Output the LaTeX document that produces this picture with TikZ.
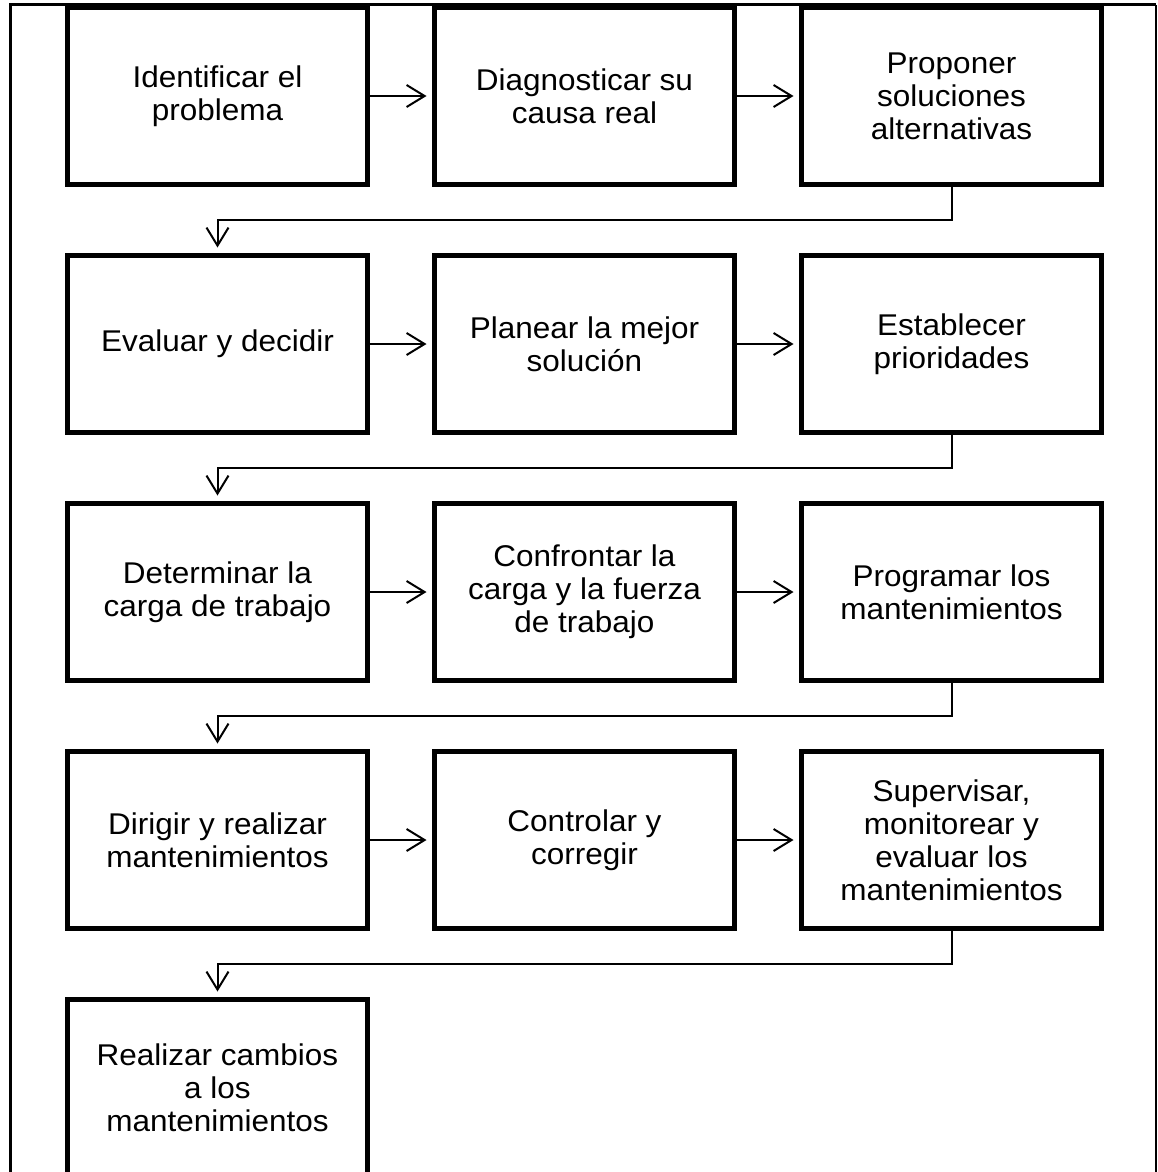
\documentclass[tikz,border=0pt]{standalone}
\usepackage{fontspec}
\setmainfont{Liberation Sans}[FakeStretch=1.05]
\usetikzlibrary{positioning,arrows.meta}

\begin{document}
\begin{tikzpicture}[line join=miter,
  box/.style={draw,line width=5pt,outer sep=0pt,minimum width=300pt,minimum height=177pt,
    align=center,font=\fontsize{30pt}{33pt}\selectfont},
  flow/.style={line width=2pt,-{Straight Barb[length=18pt,width=22pt]},shorten >=8pt}]
\path[use as bounding box,clip](0pt,0pt) rectangle (1158pt,-1172pt);

% frame
\draw[line width=3pt](10pt,-1180pt)--(10pt,-5pt)--(1156pt,-5pt);
\draw[line width=2pt](1156pt,-5pt)--(1156pt,-1180pt);

% row 1
\node[box] (id) at (217.5pt,-96pt) {Identificar el\\problema};
\node[box,right=67pt of id] (diag) {Diagnosticar su\\causa real};
\node[box,right=67pt of diag] (prop) {Proponer\\soluciones\\alternativas};
% row 2
\node[box,below=71pt of id] (eval) {Evaluar y decidir};
\node[box,right=67pt of eval] (plan) {Planear la mejor\\solución};
\node[box,right=67pt of plan] (prio) {Establecer\\prioridades};
% row 3
\node[box,below=71pt of eval] (det) {Determinar la\\carga de trabajo};
\node[box,right=67pt of det] (conf) {Confrontar la\\carga y la fuerza\\de trabajo};
\node[box,right=67pt of conf] (prog) {Programar los\\mantenimientos};
% row 4
\node[box,below=71pt of det] (dir) {Dirigir y realizar\\mantenimientos};
\node[box,right=67pt of dir] (ctrl) {Controlar y\\corregir};
\node[box,right=67pt of ctrl] (sup) {Supervisar,\\monitorear y\\evaluar los\\mantenimientos};
% row 5
\node[box,below=71pt of dir] (camb) {Realizar cambios\\a los\\mantenimientos};

\draw[flow](id)--(diag);
\draw[flow](diag)--(prop);
\draw[flow](prop.south)--++(0,-35.5pt)-|(eval.north);
\draw[flow](eval)--(plan);
\draw[flow](plan)--(prio);
\draw[flow](prio.south)--++(0,-35.5pt)-|(det.north);
\draw[flow](det)--(conf);
\draw[flow](conf)--(prog);
\draw[flow](prog.south)--++(0,-35.5pt)-|(dir.north);
\draw[flow](dir)--(ctrl);
\draw[flow](ctrl)--(sup);
\draw[flow](sup.south)--++(0,-35.5pt)-|(camb.north);
\end{tikzpicture}
\end{document}
